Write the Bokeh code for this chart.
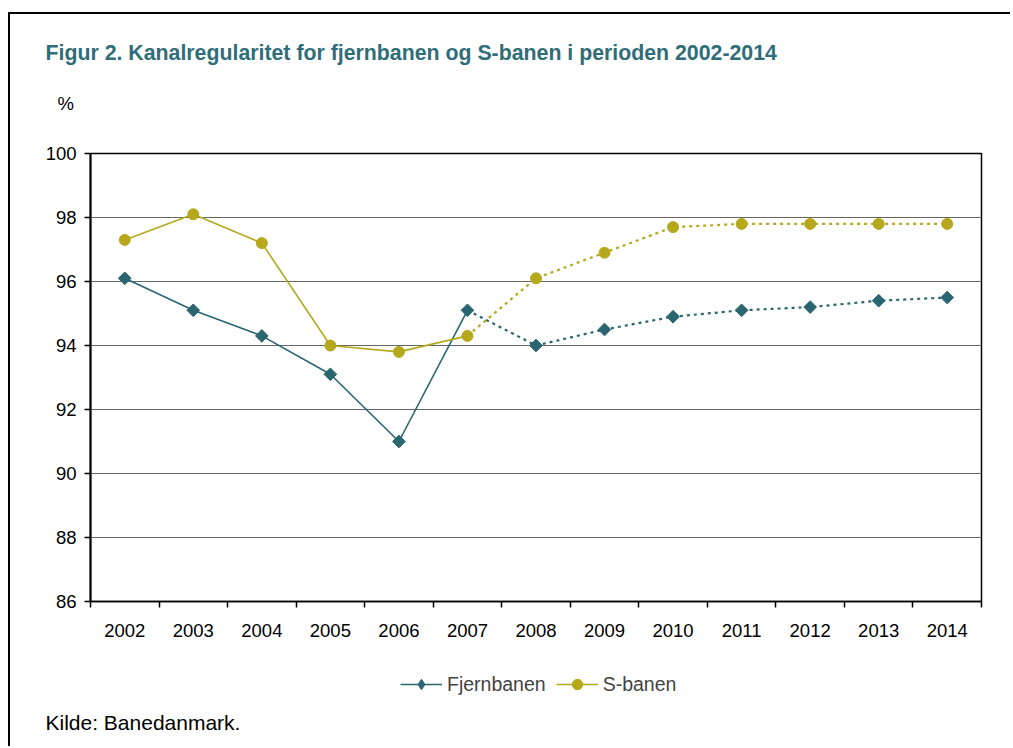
import math
from bokeh.plotting import figure
from bokeh.layouts import column
from bokeh.models import (Range1d, FactorRange, FixedTicker, CategoricalAxis, LinearAxis,
                          Legend, LegendItem, Label)
from bokeh.embed import file_html
from bokeh.resources import INLINE

years = ["2002", "2003", "2004", "2005", "2006", "2007", "2008",
         "2009", "2010", "2011", "2012", "2013", "2014"]
fjernbanen = [96.1, 95.1, 94.3, 93.1, 91.0, 95.1, 94.0, 94.5, 94.9, 95.1, 95.2, 95.4, 95.5]
sbanen = [97.3, 98.1, 97.2, 94.0, 93.8, 94.3, 96.1, 96.9, 97.7, 97.8, 97.8, 97.8, 97.8]
y_ticks = [86, 88, 90, 92, 94, 96, 98, 100]
last_actual = "2007"
title_text = "Figur 2. Kanalregularitet for fjernbanen og S-banen i perioden 2002-2014"
source_text = "Kilde: Banedanmark."
series_names = ["Fjernbanen", "S-banen"]

TEAL = "#2a6670"
OLIVE = "#b5a81c"
TITLE_C = "#2f6e78"
FONT = "Liberation Sans"
W = 1000


def blank(height, x_range, y_range):
    f = figure(width=W, height=height, output_backend="svg", toolbar_location=None,
               x_range=x_range, y_range=y_range, x_axis_location=None,
               y_axis_location=None, min_border=0, outline_line_color=None)
    f.grid.grid_line_color = None
    f.frame_align = False
    return f


# ---------- header: title and unit ----------
head = blank(124, Range1d(0, 1), Range1d(0, 1))
head.add_layout(Label(x=35, y=86, x_units="screen", y_units="screen", text=title_text,
                      text_font=FONT, text_font_style="bold", text_font_size="21.3px",
                      text_color=TITLE_C, text_baseline="middle"))
head.add_layout(Label(x=47, y=35, x_units="screen", y_units="screen", text="%",
                      text_font=FONT, text_font_size="18.5px", text_color="black",
                      text_baseline="middle"))

# ---------- main chart ----------
p = figure(width=W, height=511, output_backend="svg", toolbar_location=None,
           x_range=FactorRange(*years), y_range=Range1d(86, 100), x_axis_type=None,
           min_border_left=80, min_border_right=29, min_border_top=15,
           min_border_bottom=48, outline_line_color="black", outline_line_width=1.5)
p.frame_align = False

# tick-only x axis (ticks at category boundaries)
xa = LinearAxis(ticker=FixedTicker(ticks=list(range(len(years) + 1))))
xa.major_label_overrides = {i: "" for i in range(len(years) + 1)}
xa.major_label_standoff = 0
xa.major_tick_out = 6
xa.major_tick_in = 0
xa.minor_tick_line_color = None
xa.axis_line_color = "black"
xa.axis_line_width = 1.5
xa.major_tick_line_color = "black"
xa.major_tick_line_width = 1.5
p.add_layout(xa, "below")

# year labels centred in each category
ca = CategoricalAxis()
ca.axis_line_color = None
ca.major_tick_line_color = None
ca.major_label_standoff = 10
ca.major_label_text_font = FONT
ca.major_label_text_font_size = "18.5px"
ca.major_label_text_color = "black"
p.add_layout(ca, "below")

ya = p.yaxis[0]
ya.ticker = FixedTicker(ticks=y_ticks)
ya.major_tick_out = 6
ya.major_tick_in = 0
ya.minor_tick_line_color = None
ya.axis_line_color = "black"
ya.axis_line_width = 2
ya.major_tick_line_width = 1.5
ya.major_label_standoff = 8
ya.major_label_text_font = FONT
ya.major_label_text_font_size = "18.5px"
ya.major_label_text_color = "black"

p.ygrid.grid_line_color = "#666666"
p.ygrid.grid_line_width = 1
p.ygrid.ticker = FixedTicker(ticks=y_ticks)

k = years.index(last_actual) + 1
for vals, color, marker, size, angle in [(fjernbanen, TEAL, "square", 9, math.pi / 4),
                                         (sbanen, OLIVE, "circle", 11, 0)]:
    p.line(x=years[:k], y=vals[:k], line_color=color, line_width=1.6)
    p.line(x=years[k - 1:], y=vals[k - 1:], line_color=color, line_width=2.2, line_dash="3 4")
    p.scatter(x=years, y=vals, marker=marker, size=size, angle=angle,
              fill_color=color, line_color=color)

# ---------- footer: legend and source ----------
foot = blank(97, FactorRange(*years), Range1d(0, 1))
items = []
for name, vals, color, marker in [(series_names[0], fjernbanen, TEAL, "diamond"),
                                  (series_names[1], sbanen, OLIVE, "circle")]:
    # same series, outside the footer's visible y-range: used only for the legend keys
    ln = foot.line(x=years, y=vals, line_color=color, line_width=1.6)
    sc = foot.scatter(x=years, y=vals, marker=marker, size=10, fill_color=color,
                      line_color=color)
    items.append(LegendItem(label=name, renderers=[ln, sc]))

legend = Legend(items=items, orientation="horizontal", location=(390, 49), glyph_width=42,
                glyph_height=26, label_standoff=5, spacing=10, padding=0, margin=0,
                border_line_color=None, background_fill_alpha=0,
                label_text_font=FONT, label_text_font_size="19.5px")
foot.add_layout(legend, "center")
foot.add_layout(Label(x=35, y=24, x_units="screen", y_units="screen", text=source_text,
                      text_font=FONT, text_font_size="21px", text_color="black",
                      text_baseline="middle"))

layout = column(head, p, foot, spacing=0)
layout.styles = {"margin-left": "8px", "margin-top": "12px",
                 "border-left": "2px solid black", "border-top": "2px solid black"}

open("out.html", "w").write(file_html(layout, INLINE))
